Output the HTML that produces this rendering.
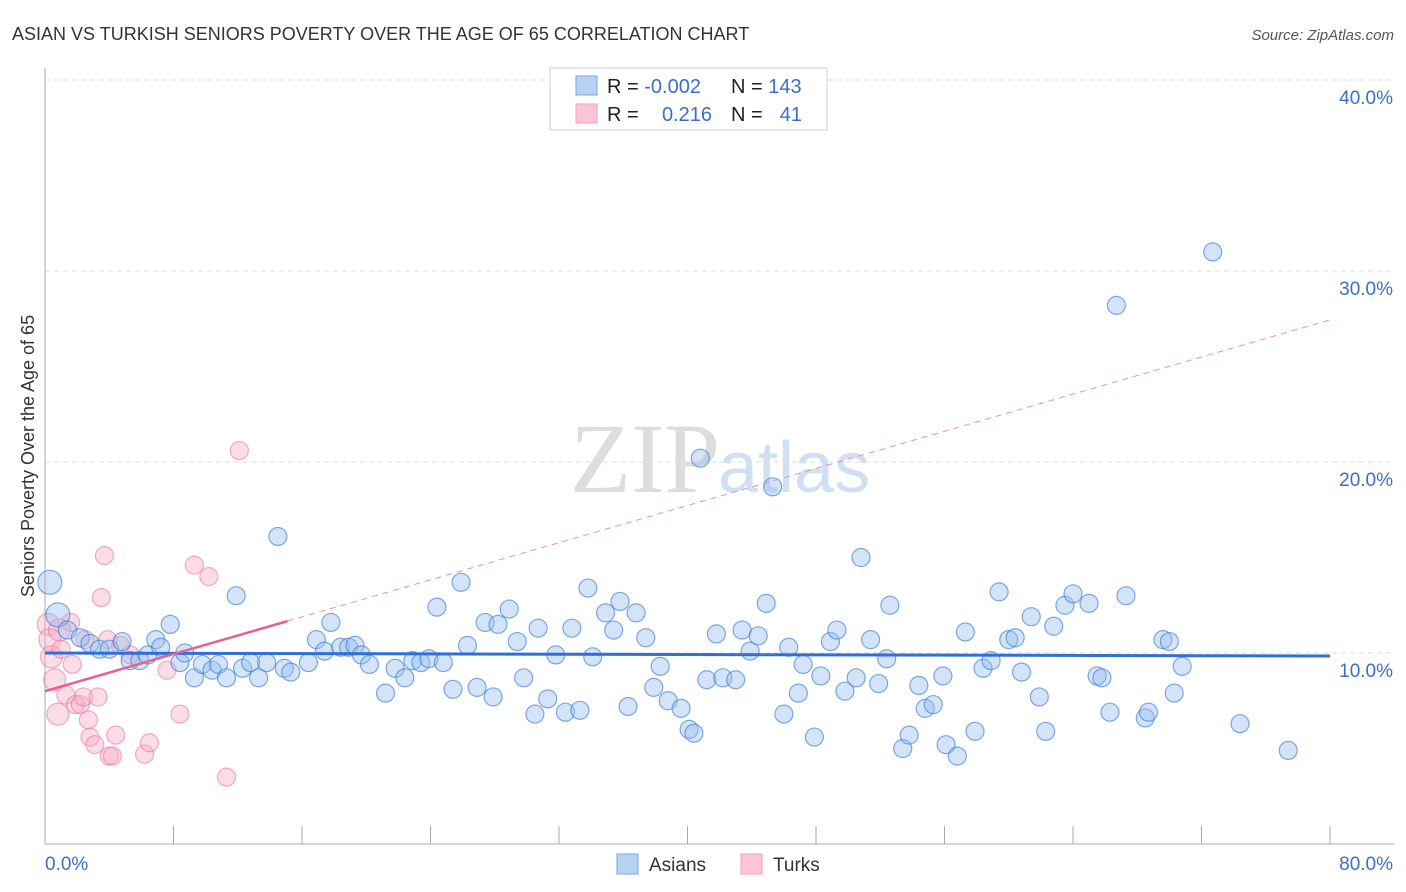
<!DOCTYPE html>
<html><head><meta charset="utf-8"><style>
body{margin:0;background:#fff;font-family:"Liberation Sans",sans-serif}
svg{display:block}
</style></head><body>
<svg id="chart" width="1406" height="892" xmlns="http://www.w3.org/2000/svg">
<text x="12" y="40" font-size="18" fill="#333">ASIAN VS TURKISH SENIORS POVERTY OVER THE AGE OF 65 CORRELATION CHART</text>
<text x="1394" y="40" font-size="15" fill="#555" font-style="italic" text-anchor="end">Source: ZipAtlas.com</text>
<text x="720" y="492" font-size="100" fill="#ddd" font-family="Liberation Serif,serif" text-anchor="end">ZIP</text>
<text x="718" y="492" font-size="72" fill="#cfe0f4">atlas</text>
<g id="grid"></g><g id="axes"></g><g id="pts"></g><g id="trend"></g>
<text transform="translate(34,456) rotate(-90)" font-size="18" fill="#333" text-anchor="middle">Seniors Poverty Over the Age of 65</text>
<g>
<rect x="550" y="68" width="277" height="62" fill="#fff" stroke="#ccc"/>
<rect x="576" y="76" width="21" height="19" fill="#b8d2f4" stroke="#7aa6e0"/>
<rect x="576" y="104" width="21" height="19" fill="#fcc4d4" stroke="#f0a0b8"/>
<text x="607" y="93" font-size="20" fill="#222">R = <tspan fill="#3a6fc8">-0.002</tspan></text>
<text x="731" y="93" font-size="20" fill="#222">N = <tspan fill="#3a6fc8">143</tspan></text>
<text x="607" y="121" font-size="20" fill="#222">R = </text><text x="712" y="121" font-size="20" fill="#3a6fc8" text-anchor="end">0.216</text>
<text x="731" y="121" font-size="20" fill="#222">N = </text><text x="802" y="121" font-size="20" fill="#3a6fc8" text-anchor="end">41</text>
</g>
<g>
<rect x="617" y="854" width="21" height="20" fill="#b8d2f4" stroke="#7aa6e0"/>
<text x="649" y="871" font-size="19" fill="#333">Asians</text>
<rect x="741" y="854" width="21" height="20" fill="#fcc4d4" stroke="#f0a0b8"/>
<text x="773" y="871" font-size="19" fill="#333">Turks</text>
</g>
</svg>
<script>
const xTicks=["0.0%","80.0%"];
const yTicks=[10,20,30,40];
const asianX=[0.3,0.8,1.4,2.2,2.8,3.4,4.0,4.8,5.3,5.9,6.4,6.9,7.2,7.8,8.4,8.7,9.3,9.8,10.4,10.8,11.3,11.9,12.3,12.8,13.3,13.8,14.5,14.9,15.3,16.4,16.9,17.4,17.8,18.4,18.9,19.3,19.7,20.2,21.2,21.8,22.4,22.9,23.4,23.9,24.4,24.8,25.4,25.9,26.3,26.9,27.4,27.9,28.2,28.9,29.4,29.8,30.5,30.7,31.3,31.8,32.4,32.8,33.3,33.8,34.1,34.9,35.4,35.8,36.3,36.8,37.4,37.9,38.3,38.8,39.6,40.1,40.4,40.8,41.2,41.8,42.2,43.0,43.4,43.9,44.4,44.9,45.3,46.0,46.3,46.9,47.2,47.9,48.3,48.9,49.3,49.8,50.5,50.8,51.4,51.9,52.4,52.6,53.4,53.8,54.4,54.8,55.3,55.9,56.1,56.8,57.3,57.9,58.4,58.9,59.4,60.0,60.4,60.8,61.4,61.9,62.3,62.8,63.5,64.0,65.0,65.5,65.8,66.3,66.7,67.3,68.5,68.7,69.6,70.0,70.3,70.8,72.7,74.4,77.4];
const asianY=[13.7,12.0,11.2,10.8,10.5,10.2,10.2,10.6,9.6,9.6,9.9,10.7,10.3,11.5,9.5,10.0,8.7,9.4,9.1,9.4,8.7,13.0,9.2,9.5,8.7,9.5,16.1,9.2,9.0,9.5,10.7,10.1,11.6,10.3,10.3,10.4,9.9,9.4,7.9,9.2,8.7,9.6,9.5,9.7,12.4,9.5,8.1,13.7,10.4,8.2,11.6,7.7,11.5,12.3,10.6,8.7,6.8,11.3,7.6,9.9,6.9,11.3,7.0,13.4,9.8,12.1,11.2,12.7,7.2,12.1,10.8,8.2,9.3,7.5,7.1,6.0,5.8,20.2,8.6,11.0,8.7,8.6,11.2,10.1,10.9,12.6,18.7,6.8,10.3,7.9,9.4,5.6,8.8,10.6,11.2,8.0,8.7,15.0,10.7,8.4,9.7,12.5,5.0,5.7,8.3,7.1,7.3,8.8,5.2,4.6,11.1,5.9,9.2,9.6,13.2,10.7,10.8,9.0,11.9,7.7,5.9,11.4,12.5,13.1,12.6,8.8,8.7,6.9,28.2,13.0,6.6,6.9,10.7,10.6,7.9,9.3,31.0,6.3,4.9];
const turkX=[0.2,0.3,0.4,0.6,0.8,1.0,1.3,1.6,1.7,1.9,2.2,2.4,2.7,2.8,3.1,3.3,3.5,3.7,3.9,4.0,4.2,4.4,4.7,5.3,6.2,6.5,7.6,8.4,9.3,10.2,11.3,12.1,0.9,2.5];
const turkY=[11.5,10.7,9.8,8.6,6.8,10.2,7.8,11.6,9.4,7.3,7.3,7.7,6.5,5.6,5.2,7.7,12.9,15.1,10.7,4.6,4.6,5.7,10.4,9.9,4.7,5.3,9.1,6.8,14.6,14.0,3.5,20.6,11.2,10.7];
const asianTrend=[-0.002,10.0];
const turkTrend=[0.243,8.0,15.1];
const NS="http://www.w3.org/2000/svg";
const X=v=>45+v/80*1285, Y=v=>844-v*19.1;
function mk(tag,attrs,parent){const e=document.createElementNS(NS,tag);for(const k in attrs)e.setAttribute(k,attrs[k]);document.getElementById(parent).appendChild(e);return e;}
yTicks.forEach(t=>{
 const l=mk('line',{x1:45,x2:1394,y1:Y(t),y2:Y(t),stroke:'#ddd','stroke-dasharray':'5,4'},'grid');
 
 
 const tx=mk('text',{x:1393,y:Y(t)+24,'font-size':19,fill:'#3a6fc8','text-anchor':'end'},'grid');
 tx.textContent=t.toFixed(1)+'%';
 
 
});
const ya=mk('line',{x1:45,x2:45,y1:68,y2:844,stroke:'#aaa'},'axes');


const xa=mk('line',{x1:45,x2:1394,y1:844,y2:844,stroke:'#aaa'},'axes');


for(let i=0;i<=10;i++){
 const t=mk('line',{x1:X(i*8),x2:X(i*8),y1:826,y2:844,stroke:'#aaa'},'axes');
 
 
}
[[0,'start',45],[80,'end',1393]].forEach((d,i)=>{
 const tx=mk('text',{x:d[2],y:870,'font-size':19,fill:'#3a6fc8','text-anchor':d[1]},'axes');
 tx.textContent=xTicks[i];
 
 
});
turkX.forEach((x,i)=>{
 const c=mk('circle',{cx:X(x),cy:Y(turkY[i]),r:x<1?11:9,fill:'rgba(248,170,195,0.4)',stroke:'rgba(232,120,155,0.6)','stroke-width':1.2},'pts');
 
 
});
asianX.forEach((x,i)=>{
 const c=mk('circle',{cx:X(x),cy:Y(asianY[i]),r:x<1?12:9,fill:'rgba(150,190,240,0.42)',stroke:'rgba(60,125,215,0.65)','stroke-width':1.2},'pts');
 
 
});
const bt=mk('line',{x1:X(0),x2:X(80),y1:Y(asianTrend[1]),y2:Y(asianTrend[1]+asianTrend[0]*80),stroke:'#2f6fd6','stroke-width':3},'trend');


const pt=mk('line',{x1:X(0),x2:X(turkTrend[2]),y1:Y(turkTrend[1]),y2:Y(turkTrend[1]+turkTrend[0]*turkTrend[2]),stroke:'#e4638d','stroke-width':2.5},'trend');


const pd=mk('line',{x1:X(turkTrend[2]),x2:X(80),y1:Y(turkTrend[1]+turkTrend[0]*turkTrend[2]),y2:Y(turkTrend[1]+turkTrend[0]*80),stroke:'#e890a8','stroke-width':1,'stroke-dasharray':'6,5'},'trend');


</script>
</body></html>
